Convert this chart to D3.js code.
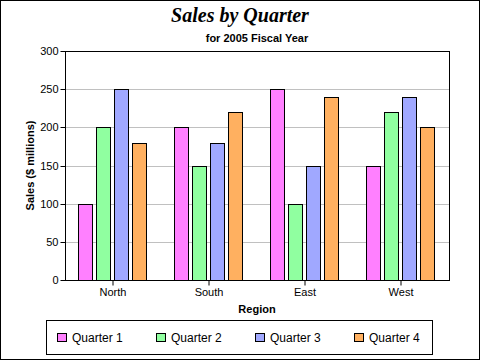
<!DOCTYPE html>
<html><head><meta charset="utf-8">
<script src="https://cdn.jsdelivr.net/npm/d3@7"></script>
<style>html,body{margin:0;padding:0;background:#fff;}svg{display:block;}</style>
</head><body>
<script>
const regions = ["North", "South", "East", "West"];
const quarters = ["Quarter 1", "Quarter 2", "Quarter 3", "Quarter 4"];
const q1 = [100, 200, 250, 150];
const q2 = [200, 150, 100, 220];
const q3 = [250, 180, 150, 240];
const q4 = [180, 220, 240, 200];
const yTicks = [0, 50, 100, 150, 200, 250, 300];
const colors = ["#ff80ff", "#90ffa0", "#a0a8ff", "#ffb060"];
const series = [q1, q2, q3, q4];

const W = 480, H = 360;
const m = {left: 65, right: 31, top: 51, bottom: 80};
const GW = 68;
const svg = d3.select("body").append("svg").attr("width", W).attr("height", H);
svg.append("rect").attr("x", 0.5).attr("y", 0.5).attr("width", W - 1).attr("height", H - 1)
  .attr("fill", "#fff").attr("stroke", "#000");

const x = d3.scaleBand().domain(regions).range([m.left, W - m.right]);
const xq = d3.scaleBand().domain(quarters).range([0, GW]).paddingInner(4 / 18);
const y = d3.scaleLinear().domain([0, 300]).range([H - m.bottom, m.top]);

const font = "Liberation Sans, Arial, sans-serif";

// gridlines
svg.append("g").selectAll("line").data(yTicks.slice(1, -1)).join("line")
  .attr("x1", m.left).attr("x2", W - m.right)
  .attr("y1", d => Math.round(y(d)) + 0.5).attr("y2", d => Math.round(y(d)) + 0.5)
  .attr("stroke", "#c0c0c0");

// plot box
svg.append("rect").attr("x", m.left + 0.5).attr("y", m.top + 0.5)
  .attr("width", W - m.right - m.left).attr("height", H - m.bottom - m.top)
  .attr("fill", "none").attr("stroke", "#000");

// bars
const g = svg.append("g");
regions.forEach((r, i) => {
  series.forEach((s, j) => {
    const x0 = x(r) + (x.bandwidth() - GW) / 2 + xq(quarters[j]);
    g.append("rect")
      .attr("x", Math.round(x0) - 0.5)
      .attr("y", Math.round(y(s[i])) + 0.5)
      .attr("width", Math.round(xq.bandwidth()))
      .attr("height", Math.round(y(0)) - Math.round(y(s[i])))
      .attr("fill", colors[j]).attr("stroke", "#000");
  });
});

// y axis
const ya = svg.append("g").attr("transform", `translate(${m.left + 0.5},0.5)`)
  .call(d3.axisLeft(y).tickValues(yTicks).tickSize(5).tickPadding(2));
ya.select(".domain").remove();
ya.selectAll("line").attr("stroke", "#000").attr("y1", 0).attr("y2", 0);
ya.selectAll(".tick").attr("transform", d => `translate(0,${Math.round(y(d))})`);
ya.selectAll("text").attr("font-family", font).attr("font-size", 11).attr("fill", "#000");

// x axis
const xa = svg.append("g").attr("transform", `translate(0,${H - m.bottom + 0.5})`)
  .call(d3.axisBottom(x).tickSize(5).tickPadding(3));
xa.select(".domain").remove();
xa.selectAll("line").attr("stroke", "#000");
xa.selectAll("text").attr("font-family", font).attr("font-size", 11).attr("fill", "#000");

// titles
svg.append("text").attr("x", 240).attr("y", 22).attr("text-anchor", "middle")
  .attr("font-family", "Liberation Serif, Times New Roman, serif").attr("font-size", 20)
  .attr("font-weight", "bold").attr("font-style", "italic").text("Sales by Quarter");
svg.append("text").attr("x", (m.left + W - m.right) / 2).attr("y", 42).attr("text-anchor", "middle")
  .attr("font-family", font).attr("font-size", 11).attr("font-weight", "bold").text("for 2005 Fiscal Year");
svg.append("text").attr("x", (m.left + W - m.right) / 2).attr("y", 313).attr("text-anchor", "middle")
  .attr("font-family", font).attr("font-size", 11).attr("font-weight", "bold").text("Region");
svg.append("text").attr("transform", `translate(34,${(m.top + H - m.bottom) / 2}) rotate(-90)`)
  .attr("text-anchor", "middle")
  .attr("font-family", font).attr("font-size", 11).attr("font-weight", "bold").text("Sales ($ millions)");

// legend
svg.append("rect").attr("x", 46.5).attr("y", 320.5).attr("width", 386).attr("height", 34)
  .attr("fill", "#fff").attr("stroke", "#000");
const lg = svg.append("g").selectAll("g").data(quarters).join("g")
  .attr("transform", (d, i) => `translate(${57 + i * 99},333)`);
lg.append("rect").attr("x", 0.5).attr("y", 0.5).attr("width", 9).attr("height", 8)
  .attr("fill", (d, i) => colors[i]).attr("stroke", "#000");
lg.append("text").attr("x", 15).attr("y", 9).attr("font-family", font).attr("font-size", 12)
  .text(d => d);
</script>
</body></html>
